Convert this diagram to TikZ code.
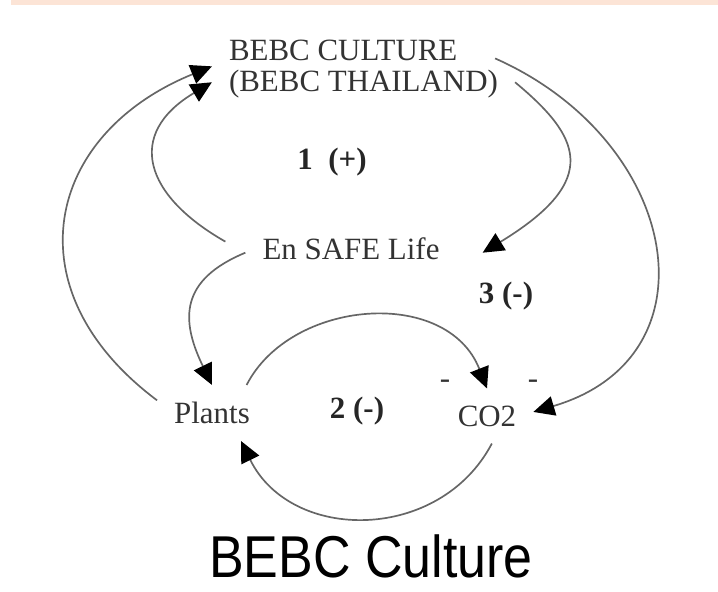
\documentclass[tikz,border=0pt]{standalone}
\usepackage{fontspec}
\setmainfont{Liberation Serif}
\newfontfamily\titlefont{Liberation Sans}
\usepackage[HTML]{xcolor}
\usepackage{tikz}
\usetikzlibrary{positioning, arrows.meta}

\definecolor{bandpeach}{HTML}{FCE4D6}

\begin{document}
\begin{tikzpicture}[x=0.25mm, y=-0.25mm,
  var/.style={inner sep=12pt, text=black!80, font=\fontsize{22}{22}\selectfont},
  loopmark/.style={inner sep=0pt, text=black!85, font=\fontsize{22}{22}\selectfont\bfseries},
  link/.style={draw=black!60, line width=1.2pt, -{Triangle[length=15pt, width=14pt, color=black]}}]

\useasboundingbox (0,0) rectangle (718,592);
\fill[bandpeach] (11,0) rectangle (718,5);

\node[var, align=left] (culture) at (363.5,69) {BEBC CULTURE\\(BEBC THAILAND)};
\node[var] (life) at (351,249) {En SAFE Life};
\node[var] (plants) at (212,413) {Plants};
\node[var] (co2) at (487,416) {CO2};

\node[loopmark] (loop1) at (332,162) {1 \ (+)};
\node[loopmark] (loop2) at (357,411) {2 (-)};
\node[loopmark] (loop3) at (506,296) {3 (-)};

\node[var, inner sep=0pt] (minusleft) at (445,384) {-};
\node[var, inner sep=0pt] (minusright) at (533,384) {-};

% loop 1
\draw[link] (plants.167) .. controls +(-147,-110) and +(-167,68) .. (culture.179);
\draw[link] ([xshift=-5mm]life.176) .. controls +(-81,-46) and +(-87,52) .. (culture.185);
\draw[link] ([xshift=-5mm]culture.4) .. controls +(185,82) and +(187,-55) .. (co2.5);

% loop 2
\draw[link] (plants.39) .. controls +(44,-86) and +(-40,-102) .. (co2.north);
\draw[link] (co2.-80) .. controls +(-52,99) and +(50,102) .. (plants.-44);

% loop 3
\draw[link] (culture.-5) .. controls +(65,54) and +(120,-73) .. ([xshift=6.5mm]life.-2);
\draw[link] (life.182) .. controls +(-65,27) and +(-32,-66) .. (plants.north);

\node[font=\titlefont\fontsize{42}{42}\selectfont] (title) at (371,556) {\scalebox{0.88}[1]{BEBC Culture}};
\end{tikzpicture}
\end{document}
